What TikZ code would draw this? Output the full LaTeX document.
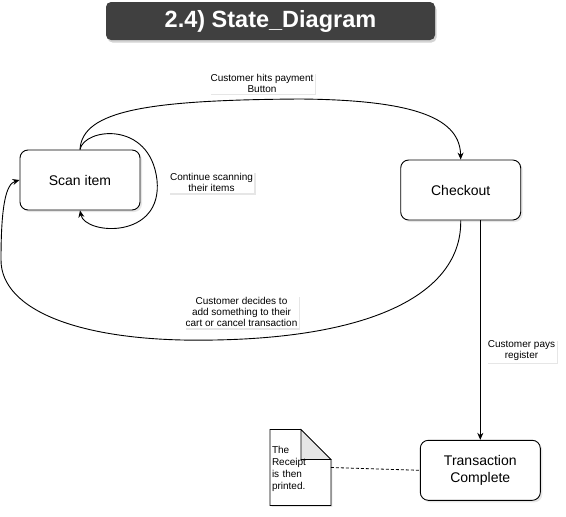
\documentclass[tikz,border=0pt]{standalone}
\usepackage{fontspec}
\setmainfont{Liberation Sans}
\usetikzlibrary{arrows.meta,positioning,calc,shadows}

\begin{document}
\begin{tikzpicture}[x=1pt,y=-1pt,>={Stealth[length=7pt,width=6pt]},line width=0.9pt,
  state/.style={draw,rounded corners=8pt,fill=white,minimum width=120pt,minimum height=60pt,
    align=center,font=\fontsize{14}{16.5}\selectfont,
    drop shadow={shadow xshift=2pt,shadow yshift=-2pt,opacity=0.2}},
  tag/.style={fill=white,inner sep=1.5pt,align=center,font=\fontsize{10}{11}\selectfont,
    drop shadow={shadow xshift=1.5pt,shadow yshift=-1.5pt,opacity=0.2}}]
\useasboundingbox (0,0) rectangle (566,517);
% title
\node[fill=black!75,rounded corners=5pt,minimum width=329pt,minimum height=38pt,text=white,
  font=\fontsize{23.5}{26}\selectfont\bfseries,
  drop shadow={shadow xshift=1.5pt,shadow yshift=-2.5pt,opacity=0.35}] (title) at (270.5,21) {2.4) State\_Diagram};
% states
\node[state] (scan) at (80,180) {Scan item};
\node[state] (checkout) at (460.7,190) {Checkout};
\node[state] (trans) at (480.3,470.3) {Transaction\\Complete};
% receipt note
\node[minimum width=60pt,minimum height=75pt,text width=57pt,inner sep=1.5pt,align=left,
  font=\fontsize{10}{12}\selectfont] (receipt) at (300.5,467.5) {};
\filldraw[fill=white,line width=0.8pt,drop shadow={shadow xshift=1.5pt,shadow yshift=-1.5pt,opacity=0.2}]
  (receipt.north west) -- ($(receipt.north east)+(-30,0)$) -- ($(receipt.north east)+(0,30)$)
  -- (receipt.south east) -- (receipt.south west) -- cycle;
\filldraw[fill=black!10,line width=0.8pt] ($(receipt.north east)+(-30,0)$) -- ++(0,30) -- ++(30,0) -- cycle;
\node[text width=57pt,inner sep=1.5pt,align=left,font=\fontsize{10}{12}\selectfont,anchor=west]
  (receipttext) at ($(receipt.west)+(0,1.5)$) {The\\Receipt\\is then\\printed.};
% transitions
\draw[->] (scan.north) .. controls (82,110) and (150,100) .. (300,99)
  .. controls (420,100) and (460,120) .. (checkout.north);
\draw[->] (scan.north) .. controls (84,128) and (150,120) .. (157,180)
  .. controls (163,240) and (85,235) .. (scan.south);
\draw[->] (checkout.south) .. controls (462,290) and (380,337) .. (215,340)
  .. controls (80,343) and (1,310) .. (1,260) .. controls (1,205) and (6,184) .. (scan.west);
\draw[->] (checkout.south -| trans.north) -- (trans.north);
\draw[dash pattern=on 3pt off 2pt,line width=0.8pt] (receipt.east) -- (trans.west);
% labels
\node[tag] (paylabel) at (262,83) {Customer hits payment\\Button};
\node[tag] (looplabel) at (211.5,182.5) {Continue scanning\\their items};
\node[tag] (backlabel) at (241.5,312) {Customer decides to\\add something to their\\cart or cancel transaction};
\node[tag] (paidlabel) at (521.5,351) {Customer pays\\register};
\end{tikzpicture}
\end{document}
